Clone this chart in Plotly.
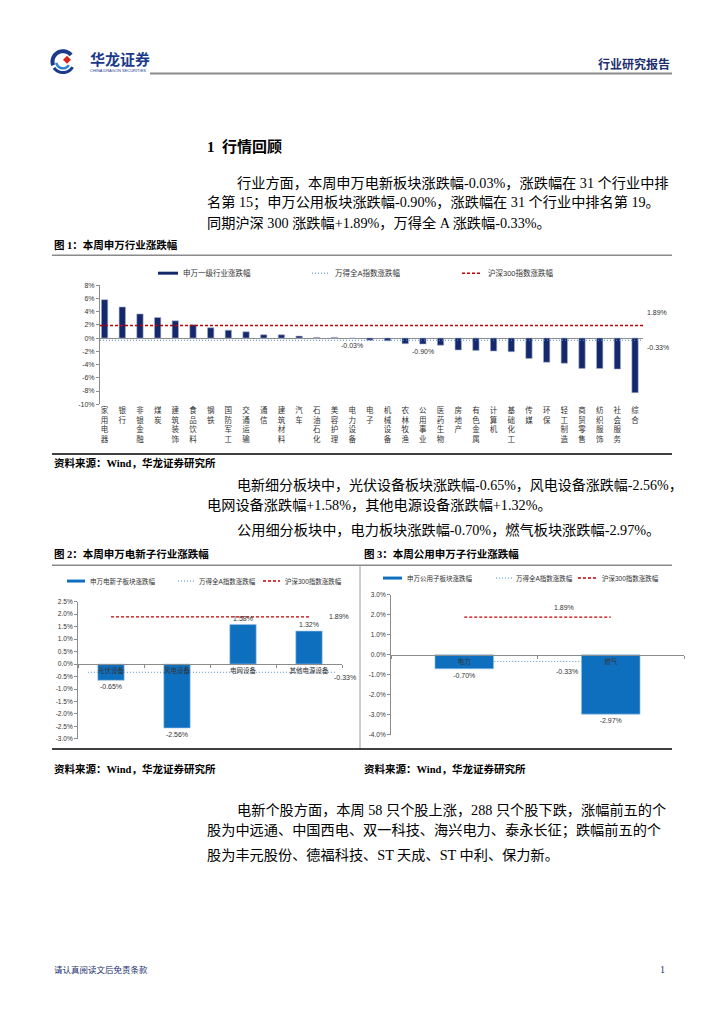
import numpy as np
import plotly.graph_objects as go

# page is shown with the browser's default 8px body margin
OFF = 8
W, H = 724 - OFF, 1024 - OFF

# ---------------- data ----------------
industries = ["家用电器", "银行", "非银金融", "煤炭", "建筑装饰", "食品饮料", "钢铁", "国防军工",
              "交通运输", "通信", "建筑材料", "汽车", "石油石化", "美容护理", "电力设备", "电子",
              "机械设备", "农林牧渔", "公用事业", "医药生物", "房地产", "有色金属", "计算机",
              "基础化工", "传媒", "环保", "轻工制造", "商贸零售", "纺织服饰", "社会服务", "综合"]
industry_chg = [5.80, 4.70, 3.65, 3.10, 2.60, 2.00, 1.55, 1.20, 0.95, 0.50, 0.50, 0.30, 0.10,
                0.10, -0.03, -0.32, -0.42, -0.85, -0.90, -1.08, -1.80, -1.86, -1.96, -2.06,
                -3.08, -3.65, -3.80, -4.58, -4.60, -4.68, -8.25]
highlight_idx = [14, 18]          # 电力设备, 公用事业

elec_cats = ["光伏设备", "风电设备", "电网设备", "其他电源设备"]
elec_chg = [-0.65, -2.56, 1.58, 1.32]

util_cats = ["电力", "燃气"]
util_chg = [-0.70, -2.97]

hs300 = 1.89
wind_a = -0.33

y1_ticks = list(range(-10, 9, 2))
y2_ticks = [round(-3.0 + 0.5 * i, 1) for i in range(12)]
y3_ticks = list(range(-4, 4, 1))

# ---------------- styles ----------------
BODY = "Liberation Serif, Noto Sans CJK SC"
CHART = "Liberation Sans, Noto Sans CJK SC"
NAVY = "#14286b"
BLUE = "#0f6fbf"
RED = "#c00000"
DOT = "#4f8fc8"
AXIS = "#8c8c8c"
RDASH = "3px,2px"
BDOT = "1px,2px"
TXT = 14.2


def px(x):
    return (x - OFF) / W


def py(y):
    return 1 - (y - OFF) / H


fig = go.Figure()


def text(x, y, s, size=TXT, color="black", family=BODY, anchor="left", bold=False):
    if bold:
        s = "<b>" + s + "</b>"
    fig.add_annotation(x=px(x), y=py(y), xref="paper", yref="paper", text=s,
                       showarrow=False, xanchor=anchor, yanchor="middle",
                       font=dict(size=size, color=color, family=family))


def line(x0, y0, x1, y1, color="black", width=1, dash=None):
    fig.add_shape(type="line", xref="paper", yref="paper",
                  x0=px(x0), y0=py(y0), x1=px(x1), y1=py(y1),
                  line=dict(color=color, width=width, dash=dash))


def rect(x0, y0, x1, y1, color):
    fig.add_shape(type="rect", xref="paper", yref="paper",
                  x0=px(x0), y0=py(y0), x1=px(x1), y1=py(y1),
                  line=dict(width=0), fillcolor=color)


def poly(points, color):
    d = "M " + " L ".join(f"{px(a):.5f},{py(b):.5f}" for a, b in points) + " Z"
    fig.add_shape(type="path", xref="paper", yref="paper", path=d,
                  line=dict(width=0), fillcolor=color)


def arc_band(cx, cy, r0, r1, a0, a1, color, n=30):
    t = np.radians(np.linspace(a0, a1, n))
    outer = [(cx + r1 * np.cos(a), cy - r1 * np.sin(a)) for a in t]
    inner = [(cx + r0 * np.cos(a), cy - r0 * np.sin(a)) for a in t[::-1]]
    poly(outer + inner, color)


def pct_labels(vals, fmt):
    return [fmt.format(v) + "%" for v in vals]


# ---------------- header ----------------
arc_band(63, 58, 8.5, 12.5, 40, 200, "#1b3a8a")
arc_band(63, 58, 5.5, 8.0, 190, 330, "#2f86d0")
arc_band(63, 58, 9.5, 12.5, 215, 330, "#1b3a8a")
poly([(67, 52), (71, 56), (67, 60), (63, 56)], "#d7261e")
text(88, 55, "华龙证券", size=15, color="#1b3a8a", family="Noto Sans CJK SC", bold=True)
text(88, 67, "CHINA DRAGON SECURITIES", size=4, color="#1b3a8a", family=CHART)
text(672, 60, "行业研究报告", size=12, color="#1b2f6e", family="Noto Sans CJK SC",
     anchor="right", bold=True)
line(150, 70, 672, 70, color="#8a8a8a", width=2)

# ---------------- section text ----------------
text(205, 143, "1  行情回顾", size=15, bold=True)
text(235, 180, "行业方面，本周申万电新板块涨跌幅-0.03%，涨跌幅在 31 个行业中排")
text(205, 200, "名第 15；申万公用板块涨跌幅-0.90%，涨跌幅在 31 个行业中排名第 19。")
text(205, 220, "同期沪深 300 涨跌幅+1.89%，万得全 A 涨跌幅-0.33%。")

text(52, 243, "图 1：本周申万行业涨跌幅", size=10.5, bold=True)
line(52, 253, 672, 253, color="#8a8a8a", width=1.5)

# chart 1 legend
rect(158, 269.5, 178, 272.5, NAVY)
text(181, 271, "申万一级行业涨跌幅", size=7.5, color="#333", family=CHART)
line(312, 271, 330, 271, color=DOT, width=1, dash=BDOT)
text(333, 271, "万得全A指数涨跌幅", size=7.5, color="#333", family=CHART)
line(462, 271, 482, 271, color=RED, width=1.5, dash=RDASH)
text(486, 271, "沪深300指数涨跌幅", size=7.5, color="#333", family=CHART)

line(52, 453, 672, 453, color="black", width=1.5)
text(52, 462, "资料来源：Wind，华龙证券研究所", size=10.5, bold=True)

text(235, 484, "电新细分板块中，光伏设备板块涨跌幅-0.65%，风电设备涨跌幅-2.56%，", size=14.0)
text(205, 504, "电网设备涨跌幅+1.58%，其他电源设备涨跌幅+1.32%。")
text(235, 530, "公用细分板块中，电力板块涨跌幅-0.70%，燃气板块涨跌幅-2.97%。")

text(52, 554, "图 2：本周申万电新子行业涨跌幅", size=10.5, bold=True)
text(362, 554, "图 3：本周公用申万子行业涨跌幅", size=10.5, bold=True)
line(52, 565, 672, 565, color="#8a8a8a", width=1.5)
line(360, 565, 360, 750, color="#9a9a9a", width=1)
line(52, 750, 672, 750, color="black", width=1.5)
text(52, 770, "资料来源：Wind，华龙证券研究所", size=10.5, bold=True)
text(362, 770, "资料来源：Wind，华龙证券研究所", size=10.5, bold=True)

# chart 2 legend
rect(67, 579.5, 85, 582.5, BLUE)
text(88, 581, "申万电新子板块涨跌幅", size=6.5, color="#333", family=CHART)
line(178, 581, 195, 581, color=DOT, width=1, dash=BDOT)
text(197, 581, "万得全A指数涨跌幅", size=6.5, color="#333", family=CHART)
line(263, 581, 280, 581, color=RED, width=1.5, dash=RDASH)
text(283, 581, "沪深300指数涨跌幅", size=6.5, color="#333", family=CHART)

# chart 3 legend
rect(383, 576.5, 402, 579.5, BLUE)
text(405, 578, "申万公用子板块涨跌幅", size=6.5, color="#333", family=CHART)
line(496, 578, 512, 578, color=DOT, width=1, dash=BDOT)
text(514, 578, "万得全A指数涨跌幅", size=6.5, color="#333", family=CHART)
line(578, 578, 597, 578, color=RED, width=1.5, dash=RDASH)
text(600, 578, "沪深300指数涨跌幅", size=6.5, color="#333", family=CHART)

text(235, 812, "电新个股方面，本周 58 只个股上涨，288 只个股下跌，涨幅前五的个")
text(205, 832, "股为中远通、中国西电、双一科技、海兴电力、泰永长征；跌幅前五的个")
text(205, 857, "股为丰元股份、德福科技、ST 天成、ST 中利、保力新。")

text(52, 972, "请认真阅读文后免责条款", size=8.5, color="#1b2f6e", family="Noto Sans CJK SC")
text(667, 972, "1", size=10, color="#1b2f6e", anchor="right")

# ---------------- chart 1 ----------------
fig.add_trace(go.Bar(x=industries, y=industry_chg, xaxis="x", yaxis="y",
                     marker=dict(color=NAVY, line=dict(color="#aab4cc", width=0.6)),
                     width=0.36, showlegend=False, hoverinfo="x+y"))
fig.add_shape(type="line", xref="x domain", yref="y", x0=0, x1=1, y0=hs300, y1=hs300,
              line=dict(color=RED, width=1.6, dash=RDASH))
fig.add_shape(type="line", xref="x domain", yref="y", x0=0, x1=1, y0=wind_a, y1=wind_a,
              line=dict(color=DOT, width=1, dash=BDOT))
fig.add_annotation(xref="x domain", yref="y", x=1, y=hs300, xanchor="left", yshift=13, xshift=2,
                   text=f"{hs300:.2f}%", showarrow=False,
                   font=dict(size=7, color="#333", family=CHART))
fig.add_annotation(xref="x domain", yref="y", x=1, y=wind_a, xanchor="left", yshift=-7, xshift=2,
                   text=f"{wind_a:.2f}%", showarrow=False,
                   font=dict(size=7, color="#333", family=CHART))
for i in highlight_idx:
    fig.add_annotation(xref="x", yref="y", x=industries[i], y=min(industry_chg[i], 0),
                       yanchor="top", yshift=-2, text=f"{industry_chg[i]:.2f}%", showarrow=False,
                       font=dict(size=7, color="#333", family=CHART))

n1 = len(industries)
fig.update_layout(
    xaxis=dict(domain=[px(100), px(643)], anchor="y", type="category",
               range=[-0.26, n1 - 1 + 0.45], tickvals=industries,
               ticktext=["<br>".join(list(s)) for s in industries],
               tickfont=dict(size=7.5, color="#333", family=CHART), showline=False,
               ticks="", showgrid=False, zeroline=False),
    yaxis=dict(domain=[py(403), py(283)], anchor="x", range=[-10, 8], tickmode="array",
               tickvals=y1_ticks, ticktext=pct_labels(y1_ticks, "{:d}"),
               tickfont=dict(size=7, color="#333", family=CHART),
               showline=True, linecolor=AXIS, linewidth=1, ticks="outside", ticklen=3,
               tickcolor=AXIS, showgrid=False, zeroline=True, zerolinecolor=AXIS,
               zerolinewidth=1),
)

# ---------------- chart 2 ----------------
y2_range = [-3.0, 2.5]
y2_dom = [py(740), py(601.7)]
zero2 = y2_dom[0] + (0 - y2_range[0]) / (y2_range[1] - y2_range[0]) * (y2_dom[1] - y2_dom[0])
fig.add_trace(go.Bar(x=elec_cats, y=elec_chg, xaxis="x2", yaxis="y2",
                     marker=dict(color=BLUE, line=dict(color="#9cc3e6", width=0.6)), width=0.4,
                     text=[f"{v:.2f}%" for v in elec_chg], textposition="outside",
                     textfont=dict(size=7, color="#333", family=CHART), cliponaxis=False,
                     showlegend=False))
fig.add_shape(type="line", xref="x2", yref="y2", x0=0, x1=len(elec_cats) - 1, y0=hs300, y1=hs300,
              line=dict(color=RED, width=1.4, dash=RDASH), layer="below")
fig.add_shape(type="line", xref="x2", yref="y2", x0=-0.35, x1=len(elec_cats) - 0.6,
              y0=wind_a, y1=wind_a, line=dict(color=DOT, width=1, dash=BDOT), layer="below")
fig.add_annotation(xref="x2 domain", yref="y2", x=0.99, y=hs300, xanchor="center",
                   text=f"{hs300:.2f}%", showarrow=False,
                   font=dict(size=7, color="#333", family=CHART))
fig.add_annotation(xref="x2 domain", yref="y2", x=1.01, y=wind_a, yshift=-5, xanchor="center",
                   text=f"{wind_a:.2f}%", showarrow=False,
                   font=dict(size=7, color="#333", family=CHART))
fig.update_layout(
    xaxis2=dict(domain=[px(78), px(342)], anchor="free", position=zero2, type="category",
                range=[-0.5, len(elec_cats) - 0.5], showline=True, linecolor=AXIS,
                ticks="outside", ticklen=3, tickcolor=AXIS, tickson="boundaries",
                tickfont=dict(size=6.5, color="#333", family=CHART), showgrid=False,
                zeroline=False),
    yaxis2=dict(domain=y2_dom, anchor="x2", range=y2_range, tickmode="array",
                tickvals=y2_ticks, ticktext=pct_labels(y2_ticks, "{:.1f}"),
                tickfont=dict(size=6.5, color="#333", family=CHART), showline=True,
                linecolor=AXIS, ticks="outside", ticklen=3, tickcolor=AXIS, showgrid=False,
                zeroline=False),
)

# ---------------- chart 3 ----------------
y3_range = [-4.0, 3.0]
y3_dom = [py(735.7), py(595)]
zero3 = y3_dom[0] + (0 - y3_range[0]) / (y3_range[1] - y3_range[0]) * (y3_dom[1] - y3_dom[0])
fig.add_trace(go.Bar(x=util_cats, y=util_chg, xaxis="x3", yaxis="y3",
                     marker=dict(color=BLUE, line=dict(color="#9cc3e6", width=0.6)), width=0.4,
                     text=[f"{v:.2f}%" for v in util_chg], textposition="outside",
                     textfont=dict(size=7, color="#333", family=CHART), cliponaxis=False,
                     showlegend=False))
fig.add_shape(type="line", xref="x3", yref="y3", x0=0, x1=len(util_cats) - 1, y0=hs300, y1=hs300,
              line=dict(color=RED, width=1.4, dash=RDASH), layer="below")
fig.add_shape(type="line", xref="x3", yref="y3", x0=0, x1=len(util_cats) - 1, y0=wind_a,
              y1=wind_a, line=dict(color=DOT, width=1, dash=BDOT), layer="below")
fig.add_annotation(xref="x3 domain", yref="y3", x=0.59, y=hs300, yshift=10, xanchor="center",
                   text=f"{hs300:.2f}%", showarrow=False,
                   font=dict(size=7, color="#333", family=CHART))
fig.add_annotation(xref="x3 domain", yref="y3", x=0.6, y=wind_a, yshift=-10, xanchor="center",
                   text=f"{wind_a:.2f}%", showarrow=False,
                   font=dict(size=7, color="#333", family=CHART))
fig.update_layout(
    xaxis3=dict(domain=[px(391), px(684)], anchor="free", position=zero3, type="category",
                range=[-0.5, len(util_cats) - 0.5], showline=True, linecolor=AXIS,
                ticks="outside", ticklen=3, tickcolor=AXIS, tickson="boundaries",
                tickfont=dict(size=6.5, color="#333", family=CHART), showgrid=False,
                zeroline=False),
    yaxis3=dict(domain=y3_dom, anchor="x3", range=y3_range, tickmode="array",
                tickvals=y3_ticks, ticktext=pct_labels(y3_ticks, "{:.1f}"),
                tickfont=dict(size=6.5, color="#333", family=CHART), showline=True,
                linecolor=AXIS, ticks="outside", ticklen=3, tickcolor=AXIS, showgrid=False,
                zeroline=False),
)

fig.update_layout(width=W, height=H, margin=dict(l=0, r=0, t=0, b=0),
                  paper_bgcolor="white", plot_bgcolor="white", showlegend=False,
                  bargap=0.6)

fig.write_html("out.html")
